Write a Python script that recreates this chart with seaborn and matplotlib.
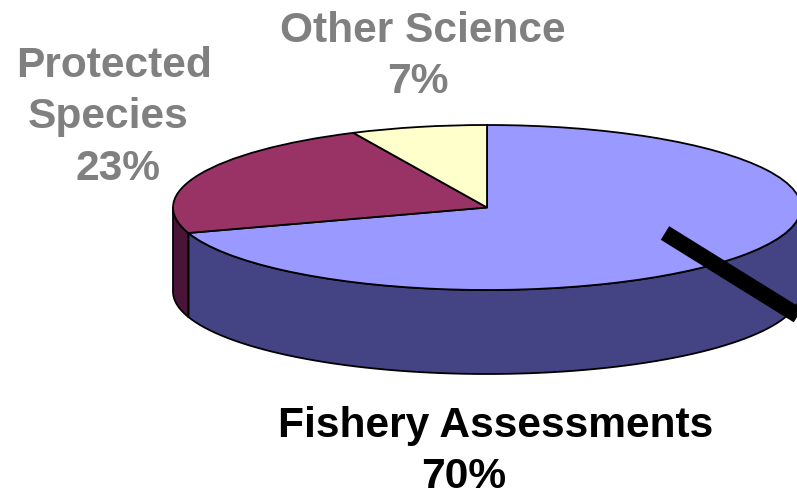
import numpy as np
import matplotlib
matplotlib.use('Agg')
import matplotlib.pyplot as plt
from matplotlib.lines import Line2D
import seaborn as sns

# Slices, in the order they are drawn clockwise from 12 o'clock
categories = ['Fishery Assessments', 'Protected Species', 'Other Science']
shares = [70, 23, 7]

top_colors = ['#9999ff', '#993366', '#ffffcc']
side_colors = ['#444484', '#4a1438', '#80805f']

sns.set_theme(style='white')
plt.rcParams['font.family'] = ['Liberation Sans', 'DejaVu Sans']

W, H = 797, 493
CX, CY = 487, 207.5   # pie centre in pixels
RX, RY = 314, 82.5    # ellipse radii in pixels
DEPTH = 84 / RY       # thickness of the disc in axis units

fig = plt.figure(figsize=(W / 100, H / 100), dpi=100)
ax = fig.add_axes([0, 0, 1, 1])

# side wall first, only the part facing the viewer (180 to 360 degrees)
fractions = np.cumsum([0] + shares) / sum(shares)
for i in range(len(shares)):
    a_start = 90 - 360 * fractions[i]
    a_end = 90 - 360 * fractions[i + 1]
    lo = max(a_end, -180)
    hi = min(a_start, 0)
    if lo < hi:
        t = np.radians(np.linspace(lo, hi, 80))
        x = np.cos(t)
        y = np.sin(t)
        ax.fill(np.r_[x, x[::-1]], np.r_[y, y[::-1] - DEPTH],
                facecolor=side_colors[i], edgecolor='black', linewidth=1.3, zorder=1)

ax.pie(shares, colors=top_colors, startangle=90, counterclock=False,
       wedgeprops={'edgecolor': 'black', 'linewidth': 1.3, 'zorder': 2})
ax.set_aspect('auto')
ax.set_xlim(-CX / RX, (W - CX) / RX)
ax.set_ylim((CY - H) / RY, CY / RY)
ax.axis('off')

# heavy pointer crossing the right side of the disc
fig.add_artist(Line2D([665 / W, 810 / W], [1 - 233 / H, 1 - 323 / H], color='black',
                      linewidth=11.5, solid_capstyle='butt', zorder=5))

gray = '#808080'


def label(text, x, baseline, color):
    # each line sits on its own, the lines are not centred on each other
    fig.text(x / W, 1 - baseline / H, text, color=color, ha='center', va='baseline',
             fontsize=30.6, fontweight='bold')


label(categories[2], 423, 42, gray)
label(f'{shares[2]}%', 418, 93, gray)
label('Protected', 114, 77, gray)
label('Species', 108, 128, gray)
label(f'{shares[1]}%', 118, 180, gray)
label(categories[0], 496, 437, 'black')
label(f'{shares[0]}%', 464, 488, 'black')

fig.savefig('out.png', dpi=100, facecolor='white')
